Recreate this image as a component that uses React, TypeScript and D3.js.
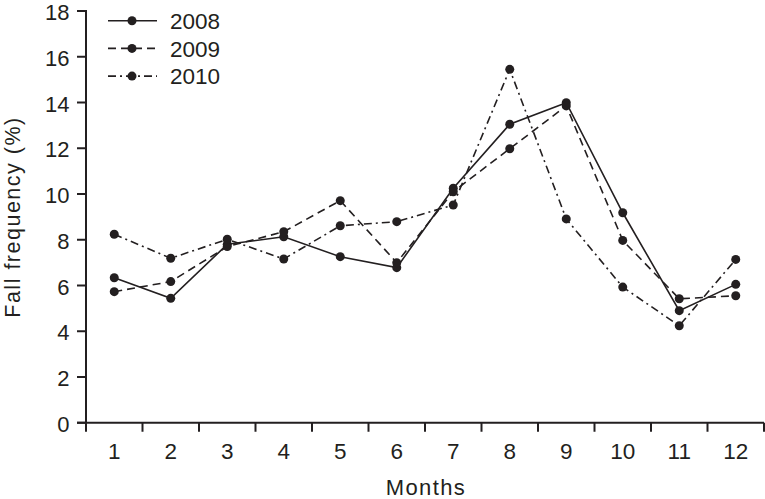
import React from "react";
import * as d3 from "d3";

const months = ["1", "2", "3", "4", "5", "6", "7", "8", "9", "10", "11", "12"];
const series2008 = [6.34, 5.44, 7.8, 8.13, 7.26, 6.78, 10.25, 13.05, 13.99, 9.18, 4.9, 6.05];
const series2009 = [5.73, 6.17, 7.7, 8.35, 9.71, 7.0, 10.1, 11.98, 13.85, 7.97, 5.42, 5.55];
const series2010 = [8.24, 7.19, 8.02, 7.16, 8.61, 8.79, 9.52, 15.45, 8.91, 5.93, 4.24, 7.14];
const seriesNames = ["2008", "2009", "2010"];
const yTicks = [0, 2, 4, 6, 8, 10, 12, 14, 16, 18];

const W = 765;
const H = 499;
const FONT = "'Liberation Sans', Arial, sans-serif";
const INK = "#231f20";
const dashes = [null, "8,5", "8,4,2,4"];

export default function App() {
  const x = d3.scaleBand().domain(months).range([86, 764]).padding(0);
  const y = d3.scaleLinear().domain([0, 18]).range([422.75, 11]);
  const allSeries = [series2008, series2009, series2010];
  const line = d3
    .line<number>()
    .x((_, i) => (x(months[i]) as number) + x.bandwidth() / 2)
    .y((d) => y(d));

  const boundaries = [86, ...months.map((m) => (x(m) as number) + x.bandwidth())];

  return (
    <svg
      width={W}
      height={H}
      style={{ position: "absolute", left: 0, top: 0, display: "block", background: "#fff" }}
      fontFamily={FONT}
    >
      {/* Y axis */}
      <line x1={86} x2={86} y1={10} y2={y(0)} stroke={INK} strokeWidth={2} />
      {yTicks.map((t) => (
        <g key={t}>
          <line x1={77} x2={86} y1={y(t)} y2={y(t)} stroke={INK} strokeWidth={2} />
          <text x={69.5} y={y(t)} dy="0.42em" textAnchor="end" fontSize={22} fill={INK}>
            {t}
          </text>
        </g>
      ))}
      {/* X axis */}
      <line x1={77} x2={764} y1={y(0)} y2={y(0)} stroke={INK} strokeWidth={2} />
      {boundaries.map((b, i) => (
        <line key={i} x1={b} x2={b} y1={y(0)} y2={y(0) + 9} stroke={INK} strokeWidth={2} />
      ))}
      {months.map((m) => (
        <text
          key={m}
          x={(x(m) as number) + x.bandwidth() / 2}
          y={459}
          textAnchor="middle"
          fontSize={22.5}
          fill={INK}
        >
          {m}
        </text>
      ))}
      <text x={426} y={495} textAnchor="middle" fontSize={22} letterSpacing={1.4} fill={INK}>
        Months
      </text>
      <text
        transform={`translate(19.5,217) rotate(-90)`}
        textAnchor="middle"
        fontSize={21.5}
        letterSpacing={1.5}
        fill={INK}
      >
        Fall frequency (%)
      </text>

      {/* Series */}
      {allSeries.map((s, si) => (
        <g key={si}>
          <path
            d={line(s) as string}
            fill="none"
            stroke={INK}
            strokeWidth={1.6}
            strokeDasharray={dashes[si] ?? undefined}
          />
          {s.map((v, i) => (
            <circle
              key={i}
              cx={(x(months[i]) as number) + x.bandwidth() / 2}
              cy={y(v)}
              r={4.5}
              fill={INK}
            />
          ))}
        </g>
      ))}

      {/* Legend */}
      {seriesNames.map((n, i) => {
        const ly = 20.7 + i * 27.7;
        return (
          <g key={n}>
            <line
              x1={108}
              x2={157}
              y1={ly}
              y2={ly}
              stroke={INK}
              strokeWidth={1.6}
              strokeDasharray={dashes[i] ?? undefined}
            />
            <circle cx={132} cy={ly} r={4.5} fill={INK} />
            <text x={170} y={ly} dy="0.37em" fontSize={22.5} fill={INK}>
              {n}
            </text>
          </g>
        );
      })}
    </svg>
  );
}
